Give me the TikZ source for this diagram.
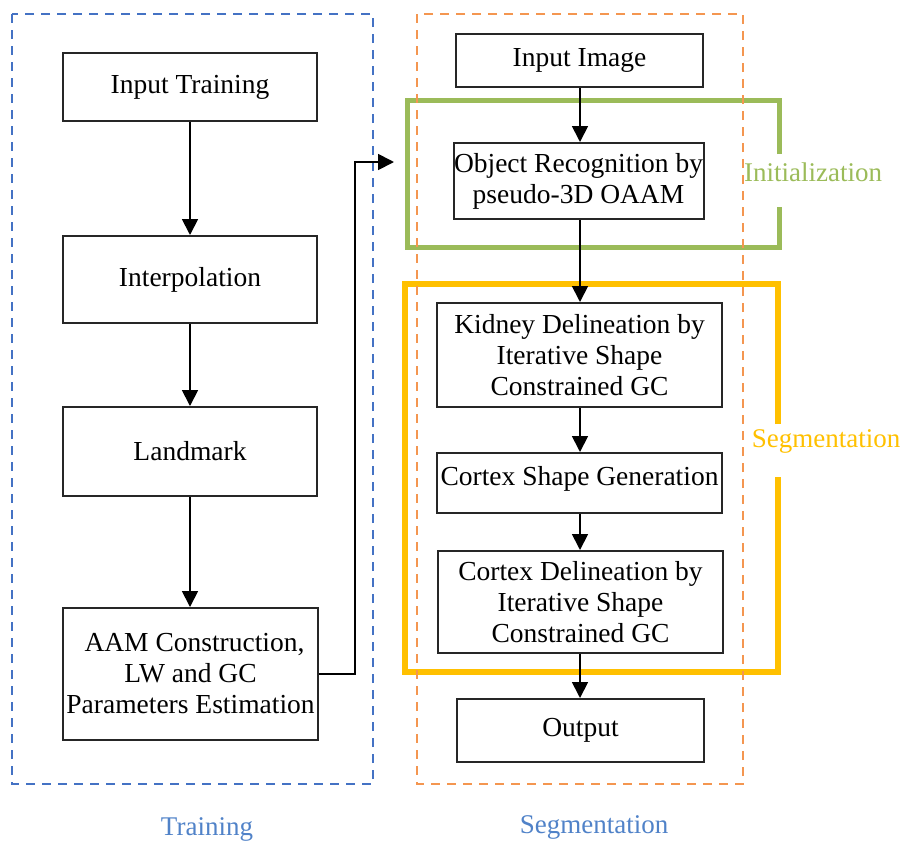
\documentclass[tikz,border=0pt]{standalone}
\usepackage{fontspec}
\setmainfont{Liberation Serif}
\usetikzlibrary{arrows.meta}
\definecolor{tblue}{RGB}{68,114,196}
\definecolor{lblue}{RGB}{80,130,200}
\definecolor{torange}{RGB}{244,150,80}
\definecolor{tgreen}{RGB}{155,187,89}
\definecolor{tyellow}{RGB}{255,192,0}
\tikzset{
  stepbox/.style={draw=black!85, line width=2pt, inner sep=0.5pt, align=center,
    font=\fontsize{27.5}{31}\selectfont},
  arr/.style={line width=1.8pt, -{Triangle[width=16pt,length=16pt]}},
  grp/.style={line width=2.2pt, dash pattern=on 9pt off 7pt},
  tag/.style={font=\fontsize{27}{31}\selectfont, inner sep=0pt},
}
\begin{document}
\begin{tikzpicture}[x=1pt,y=-1pt]
\useasboundingbox (0,0) rectangle (901,844);
% group frames
\draw[tgreen, line width=5pt] (779,154) -- (779,100) -- (407,100) -- (407,247) -- (779,247) -- (779,207);
\draw[tyellow, line width=6pt] (778,424) -- (778,284) -- (405,284) -- (405,672) -- (778,672) -- (778,477);
\draw[grp, tblue] (12,14) rectangle (373,784);
\draw[grp, torange] (417,14) rectangle (743,784);
% left column
\node[stepbox, minimum width=254pt, minimum height=68pt] (it) at (190,87) {Input Training};
\node[stepbox, minimum width=254pt, minimum height=87pt] (interp) at (190,279.5) {Interpolation};
\node[stepbox, minimum width=254pt, minimum height=89pt] (land) at (190,451.5) {Landmark};
\node[stepbox, minimum width=255pt, minimum height=132pt] (aam) at (190.5,674) {\hspace*{8pt}AAM Construction,\\LW and GC\\Parameters Estimation};
% right column
\node[stepbox, minimum width=247pt, minimum height=53pt] (img) at (579.5,60.5) {Input Image};
\node[stepbox, minimum width=249pt, minimum height=76pt] (obj) at (578.5,181) {Object Recognition by\\pseudo-3D OAAM};
\node[stepbox, minimum width=285pt, minimum height=104pt] (kid) at (579.5,355) {Kidney Delineation by\\Iterative Shape\\Constrained GC};
\node[stepbox, minimum width=285pt, minimum height=60pt, text depth=14pt] (csg) at (579.5,483) {Cortex Shape Generation};
\node[stepbox, minimum width=285pt, minimum height=102pt] (cdl) at (580.5,602) {Cortex Delineation by\\Iterative Shape\\Constrained GC};
\node[stepbox, minimum width=247pt, minimum height=63pt] (out) at (580.5,730.5) {Output};
% connectors
\coordinate (lcol) at (190,0);
\draw[arr] (it.south -| lcol) -- (interp.north -| lcol);
\draw[arr] (interp.south -| lcol) -- (land.north -| lcol);
\draw[arr] (land.south -| lcol) -- (aam.north -| lcol);
\coordinate (col) at (580,0);
\draw[arr] (img.south -| col) -- (obj.north -| col);
\draw[arr] (obj.south -| col) -- (kid.north -| col);
\draw[arr] (kid.south -| col) -- (csg.north -| col);
\draw[arr] (csg.south -| col) -- (cdl.north -| col);
\draw[arr] (cdl.south -| col) -- (out.north -| col);
\coordinate (turn) at (355,162);
\coordinate (tip) at (394,162);
\draw[arr] (aam.east) -- (aam.east -| turn) -- (turn) -- (tip);
% labels
\node[tag, text=tgreen] (lini) at (813,172) {Initialization};
\node[tag, text=tyellow] (lseg) at (826,441) {Segmentation};
\node[tag, text=lblue] (ltr) at (207,829) {Training};
\node[tag, text=lblue] (lsg) at (594,827) {Segmentation};
\end{tikzpicture}
\end{document}
